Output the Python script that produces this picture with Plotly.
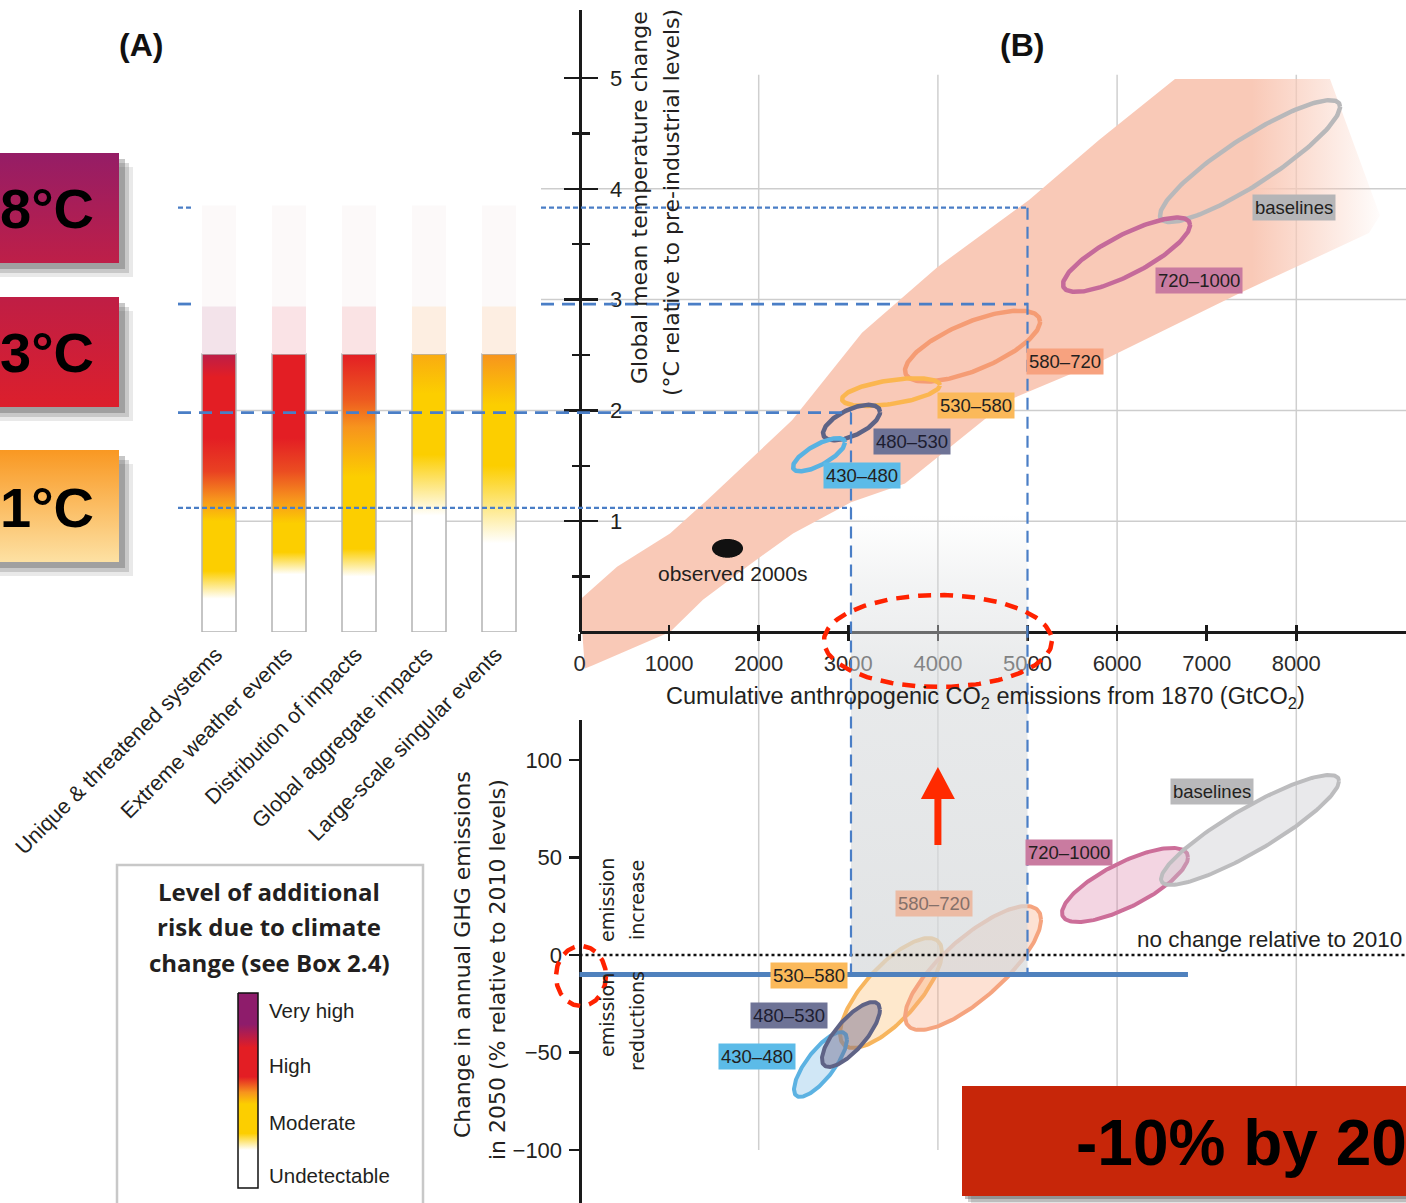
import numpy as np
import plotly.graph_objects as go

W, H = 1406, 1203

# ======================= DATA =======================
# Panel A - reasons for concern; risk level 0=undetectable 1=moderate 2=high 3=very high
rfc_names = ["Unique & threatened systems", "Extreme weather events", "Distribution of impacts",
             "Global aggregate impacts", "Large-scale singular events"]
rfc_T = [
    [0.00, 0.30, 0.55, 1.00, 1.20, 1.45, 1.75, 2.30, 2.51],
    [0.00, 0.52, 0.72, 0.98, 1.20, 1.45, 1.75, 2.51],
    [0.00, 0.50, 0.75, 1.40, 1.85, 2.10, 2.51],
    [0.00, 1.05, 1.60, 2.15, 2.51],
    [0.00, 0.80, 1.50, 2.05, 2.51],
]
rfc_level = [
    [0, 0, 1, 1, 1.5, 1.85, 2, 2, 2.5],
    [0, 0, 1, 1, 1.5, 1.8, 2, 2],
    [0, 0, 1, 1, 1.5, 1.75, 2],
    [0, 0, 1, 1, 1.3],
    [0, 0, 1, 1, 1.5],
]
rfc_band_T = [2.51, 2.94, 3.85]          # assessed top, pale band top, faint band top (°C)

legend_names = ["Very high", "High", "Moderate", "Undetectable"]
legend_name_pos = [0.908, 0.626, 0.338, 0.062]
legend_pos = [0.0, 0.195, 0.28, 0.43, 0.49, 0.57, 0.72, 0.84, 1.0]
legend_level = [0, 0, 1, 1, 1.5, 2, 2, 3, 3]

# Panel B - scenarios (CO2-eq concentration categories, ppm)
scenarios = ["baselines", "720–1000", "580–720", "530–580", "480–530", "430–480"]
# top: cumulative CO2 (GtCO2) vs warming (°C)
top_x_lo = [6479, 5396, 3633, 2930, 2718, 2383]
top_x_hi = [8488, 6814, 5140, 4023, 3354, 2963]
top_t_lo = [3.70, 3.07, 2.26, 2.04, 1.73, 1.45]
top_t_hi = [4.80, 3.74, 2.90, 2.29, 2.05, 1.75]
top_rho = [0.89, 0.80, 0.69, 0.50, 0.60, 0.73]
top_lab_x = [7974, 6914, 5419, 4425, 3711, 3153]
top_lab_t = [3.83, 3.17, 2.44, 2.04, 1.72, 1.41]

obs_x = [1479, 1825]
obs_t = [0.67, 0.84]
obs_lab = (1713, 0.53)

band_upper_x = [60, 5, 419, 1010, 1423, 2372, 3153, 3990, 5017, 5798, 6646, 8376]
band_upper_t = [-0.33, 0.29, 0.59, 0.89, 1.19, 1.91, 2.70, 3.29, 3.90, 4.44, 4.99, 4.99]
band_lower_x = [8934, 8811, 7372, 5809, 4782, 3633, 3030, 2383, 1869, 1378, 1010, 151]
band_lower_t = [3.76, 3.60, 3.06, 2.44, 2.09, 1.34, 1.17, 0.89, 0.59, 0.29, 0.00, -0.30]

# bottom: cumulative CO2 (GtCO2) vs change in 2050 GHG emissions (% rel. 2010)
bot_x_lo = [6490, 5385, 3633, 2907, 2706, 2394]
bot_x_hi = [8477, 6791, 5151, 4046, 3353, 2985]
bot_e_lo = [35.9, 16.9, -38.5, -47.7, -57.4, -72.8]
bot_e_hi = [92.3, 54.9, 25.1, 8.7, -24.1, -39.5]
bot_rho = [0.89, 0.75, 0.78, 0.74, 0.76, 0.77]
bot_lab_x = [7059, 5463, 3956, 2561, 2338, 1981]
bot_lab_e = [83.6, 52.8, 26.2, -10.3, -30.8, -52.3]

# guides
budget_x = [3030, 5000]            # GtCO2
budget_T_dash = [1.98, 2.96]       # °C
budget_T_dot = [1.12, 3.83]        # °C
target_change = -10                # %
target_line_end = 6791             # GtCO2

x_ticks = [0, 1000, 2000, 3000, 4000, 5000, 6000, 7000, 8000]
t_ticks = [1, 2, 3, 4, 5]
t_minor = [0.5, 1.5, 2.5, 3.5, 4.5]
e_ticks = [-100, -50, 0, 50, 100]
e_ticktext = ["−100", "−50", "0", "50", "100"]
grid_x = [2000, 4000, 6000, 8000]
grid_t = [1, 2, 3, 4]

# ======================= LAYOUT CONSTANTS =======================
X0, SX = 579.5, 0.0896      # px of X=0, px per GtCO2
T0, ST = 632.0, 110.8       # px of T=0, px per °C
E0, SE = 955.0, 1.95        # px of 0 %, px per %
A0, SA = 219.0, 70.0        # panel A first bar centre, spacing

SANS = "Liberation Sans, Arial, sans-serif"
HUMAN = "DejaVu Sans, Verdana, sans-serif"
INK = "#1a1a1a"
TXT = "#231f20"
BLUE = "#4a7ec6"


def fx(px):
    return px / W


def fy(py):
    return 1 - py / H


def xpx(X):
    return X0 + X * SX


def tpy(T):
    return T0 - T * ST


def epy(E):
    return E0 - E * SE


def ell(xlo, xhi, ylo, yhi, rho, n=181):
    t = np.linspace(0, 2 * np.pi, n)
    cx, cy = (xlo + xhi) / 2, (ylo + yhi) / 2
    hx, hy = (xhi - xlo) / 2, (yhi - ylo) / 2
    phi = np.arccos(rho)
    return cx + hx * np.cos(t), cy + hy * np.cos(t - phi)


def rect(x0, x1, y0, y1):
    return [x0, x1, x1, x0, x0], [y0, y0, y1, y1, y0]


LEVEL_STOPS = [0, 1, 1.5, 2, 2.5, 3]
LEVEL_RGB = [(255, 255, 255), (252, 206, 0), (247, 148, 29), (227, 30, 36), (188, 30, 72), (142, 28, 107)]


def level_color(v):
    c = [np.interp(v, LEVEL_STOPS, [p[k] for p in LEVEL_RGB]) for k in range(3)]
    return "rgb(%d,%d,%d)" % tuple(int(round(a)) for a in c)


SK = dict(hoverinfo="skip", showlegend=False)
fig = go.Figure()

# ---------- subplot xy : band, ellipses, observed ----------
bx = band_upper_x + band_lower_x + [band_upper_x[0]]
bt = band_upper_t + band_lower_t + [band_upper_t[0]]
fig.add_trace(go.Scatter(
    x=bx, y=bt, mode="none", fill="toself",
    fillgradient=dict(type="horizontal", start=min(bx), stop=max(bx),
                      colorscale=[[0, "rgb(249,201,183)"], [0.84, "rgb(249,201,183)"],
                                  [1, "rgba(249,201,183,0.05)"]]),
    xaxis="x", yaxis="y", **SK))

TOP_LINE = ["#b8b8ba", "#c56a9a", "#f59c74", "#fbb650", "#5d6386", "#58b2e2"]
for i in range(len(scenarios)):
    ex, ey = ell(top_x_lo[i], top_x_hi[i], top_t_lo[i], top_t_hi[i], top_rho[i])
    fig.add_trace(go.Scatter(x=ex, y=ey, mode="lines", line=dict(color=TOP_LINE[i], width=4.5),
                             xaxis="x", yaxis="y", **SK))
ox, oy = ell(obs_x[0], obs_x[1], obs_t[0], obs_t[1], 0.0)
fig.add_trace(go.Scatter(x=ox, y=oy, mode="none", fill="toself", fillcolor="#111111",
                         xaxis="x", yaxis="y", **SK))

# dummy traces for axis-only subplots
fig.add_trace(go.Scatter(x=[None], y=[None], xaxis="x", yaxis="y2", **SK))
fig.add_trace(go.Scatter(x=[None], y=[None], xaxis="x", yaxis="y3", **SK))
fig.add_trace(go.Scatter(x=[None], y=[None], xaxis="x2", yaxis="y2", **SK))

# ---------- subplot xy4 : bottom panel ----------
BOT_LINE = ["#bcbcbe", "#cc6e99", "#f5a47f", "#f7b55d", "#5f6386", "#5cb2e2"]
BOT_FILL = ["rgba(200,200,206,0.40)", "rgba(215,115,160,0.30)", "rgba(250,170,130,0.35)",
            "rgba(253,190,110,0.35)", "rgba(110,105,140,0.45)", "rgba(120,185,230,0.35)"]
for i in [1, 0, 3, 2, 5, 4]:
    ex, ey = ell(bot_x_lo[i], bot_x_hi[i], bot_e_lo[i], bot_e_hi[i], bot_rho[i])
    fig.add_trace(go.Scatter(x=ex, y=ey, mode="lines", fill="toself", fillcolor=BOT_FILL[i],
                             line=dict(color=BOT_LINE[i], width=4), xaxis="x", yaxis="y4", **SK))

# ---------- subplot x3y2 : panel A bars ----------
HW = 17.0 / SA
PALE = ["#f3e3ea", "#fae3e6", "#fae3e4", "#fdeee1", "#fdeee2"]
for i in range(len(rfc_names)):
    top = rfc_band_T[0]
    cs = [[T / top, level_color(l)] for T, l in zip(rfc_T[i], rfc_level[i])]
    rx_, ry_ = rect(i - HW, i + HW, 0, top)
    fig.add_trace(go.Scatter(x=rx_, y=ry_, mode="lines", fill="toself",
                             fillgradient=dict(type="vertical", colorscale=cs, start=0, stop=top),
                             line=dict(color="#b3b3b3", width=1.5), xaxis="x3", yaxis="y2", **SK))
    rx_, ry_ = rect(i - HW, i + HW, rfc_band_T[0], rfc_band_T[1])
    fig.add_trace(go.Scatter(x=rx_, y=ry_, mode="none", fill="toself", fillcolor=PALE[i],
                             xaxis="x3", yaxis="y2", **SK))
    rx_, ry_ = rect(i - HW, i + HW, rfc_band_T[1], rfc_band_T[2])
    fig.add_trace(go.Scatter(x=rx_, y=ry_, mode="none", fill="toself", fillcolor="#fcf9f9",
                             xaxis="x3", yaxis="y2", **SK))


# ---------- subplot x9y9 : pixel overlay ----------
def ov(x, y, **kw):
    fig.add_trace(go.Scatter(x=x, y=y, xaxis="x9", yaxis="y9", **SK, **kw))


# temperature boxes with shadows
deg_boxes = [("8°C", 153, 263, "#951d66", "#be1f48"),
             ("3°C", 297, 407, "#bf1e45", "#dc1f2c"),
             ("1°C", 450, 562, "#f99822", "#fde1a3")]
for _, y0, y1, ctop, cbot in deg_boxes:
    for off, a in [(14, 0.12), (10, 0.2), (6, 0.3)]:
        rx_, ry_ = rect(0, 119 + off, y0 + off, y1 + off)
        ov(rx_, ry_, mode="none", fill="toself", fillcolor="rgba(70,70,70,%.2f)" % a)
    rx_, ry_ = rect(0, 119, y0, y1)
    ov(rx_, ry_, mode="none", fill="toself",
       fillgradient=dict(type="vertical", start=y0, stop=y1, colorscale=[[0, ctop], [1, cbot]]))

# red box
for off, a in [(9, 0.15), (6, 0.25), (3, 0.35)]:
    rx_, ry_ = rect(962 + off, W, 1086 + off, 1196 + off)
    ov(rx_, ry_, mode="none", fill="toself", fillcolor="rgba(70,70,70,%.2f)" % a)
rx_, ry_ = rect(962, W, 1086, 1196)
ov(rx_, ry_, mode="none", fill="toself", fillcolor="#c72609")

# legend colour bar
CB_T, CB_B = 993, 1188
cs_leg = sorted([[1 - p, level_color(l)] for p, l in zip(legend_pos, legend_level)], key=lambda v: v[0])
rx_, ry_ = rect(238, 258, CB_T, CB_B)
ov(rx_, ry_, mode="lines", fill="toself", line=dict(color="#111111", width=1.5),
   fillgradient=dict(type="vertical", start=CB_T, stop=CB_B, colorscale=cs_leg))

# grey highlight of the budget range
g_top, g_bot = 515, epy(target_change)
rx_, ry_ = rect(xpx(budget_x[0]), xpx(budget_x[1]), g_top, g_bot)
ov(rx_, ry_, mode="none", fill="toself",
   fillgradient=dict(type="vertical", start=g_top, stop=g_bot,
                     colorscale=[[0, "rgba(214,217,219,0)"], [0.15, "rgba(214,217,219,0.30)"],
                                 [0.35, "rgba(214,217,219,0.55)"], [1, "rgba(214,217,219,0.72)"]]))

# zero-change dotted line
ov([xpx(0), W], [epy(0), epy(0)], mode="lines", line=dict(color="#111111", width=2.5, dash="3px,3px"))
# -10 % target line
ov([xpx(0), xpx(target_line_end)], [epy(target_change)] * 2, mode="lines",
   line=dict(color="#4f81bd", width=5))

# blue dashed guides
for bxv, td, tdot in zip(budget_x, budget_T_dash, budget_T_dot):
    xe = xpx(bxv)
    for T, dash, w in [(td, "13px,8px", 2.8), (tdot, "5px,3px", 2.2)]:
        segs = [(178, 192), (541, xe)] if T > rfc_band_T[0] else [(178, xe)]
        for a, b in segs:
            ov([a, b], [tpy(T), tpy(T)], mode="lines", line=dict(color=BLUE, width=w, dash=dash))
    ov([xe, xe], [tpy(max(td, tdot)), epy(target_change)], mode="lines",
       line=dict(color=BLUE, width=2.2, dash="12px,7px"))

# red dashed ellipses
for cx, cy, rxx, ryy in [(xpx(4000), 641, 114, 46), (581, 976, 25, 30)]:
    t = np.linspace(0, 2 * np.pi, 200)
    ov(cx + rxx * np.cos(t), cy + ryy * np.sin(t), mode="lines",
       line=dict(color="#ff2200", width=4.5, dash="13px,9px"))

# red arrow
ax_x = xpx(4000)
ov([ax_x, ax_x], [845, 796], mode="lines", line=dict(color="#ff2a00", width=7))
ov([ax_x - 17, ax_x + 17, ax_x, ax_x - 17], [799, 799, 767, 799], mode="none", fill="toself",
   fillcolor="#ff2a00")

# ======================= SHAPES =======================
shapes = []
for X in grid_x:
    shapes.append(dict(type="line", xref="paper", yref="paper", x0=fx(xpx(X)), x1=fx(xpx(X)),
                       y0=fy(tpy(5.03)), y1=fy(epy(-100)), line=dict(color="#cfcfcf", width=1.5),
                       layer="below"))
for T in grid_t:
    xs = A0 if T <= 2 else 541
    shapes.append(dict(type="line", xref="paper", yref="paper", x0=fx(xs), x1=1,
                       y0=fy(tpy(T)), y1=fy(tpy(T)), line=dict(color="#cdcdcd", width=1.5),
                       layer="below"))
shapes.append(dict(type="rect", xref="paper", yref="paper", x0=fx(117), x1=fx(423),
                   y0=fy(1215), y1=fy(865), line=dict(color="#c8c8c8", width=2.5), layer="below"))

# ======================= ANNOTATIONS =======================
ann = []


def A(**kw):
    d = dict(showarrow=False, xanchor="center", yanchor="middle", xref="paper", yref="paper")
    d.update(kw)
    ann.append(d)


A(text="<b>(A)</b>", x=fx(141), y=fy(45), font=dict(family=SANS, size=32, color="#111111"))
A(text="<b>(B)</b>", x=fx(1022), y=fy(45), font=dict(family=SANS, size=32, color="#111111"))

for txt, y0, y1, _, _ in deg_boxes:
    A(text="<b>%s</b>" % txt, x=fx(96), y=fy((y0 + y1) / 2 + 1), xanchor="right",
      font=dict(family=SANS, size=56, color="#000000"))

A(text="<b>-10% by 20</b>", x=fx(1074), y=fy(1143), xanchor="left",
  font=dict(family=SANS, size=64, color="#000000"))

for i, name in enumerate(rfc_names):
    A(text=name, x=i, xref="x3", xshift=11, y=fy(640), textangle=-45,
      xanchor="right", yanchor="top", font=dict(family=SANS, size=21.5, color=TXT))

for k, line in enumerate(["Level of additional", "risk due to climate", "change (see Box 2.4)"]):
    A(text="<b>%s</b>" % line, x=fx(269), y=fy(891 + 35.5 * k),
      font=dict(family="Open Sans, Liberation Sans, sans-serif", size=24, color=TXT))
for name, p in zip(legend_names, legend_name_pos):
    A(text=name, x=fx(267), y=fy(CB_B - p * (CB_B - CB_T)), xanchor="left",
      font=dict(family=SANS, size=20.5, color=TXT))

A(text="Global mean temperature change", x=fx(640), y=fy(198), textangle=-90,
  font=dict(family=HUMAN, size=22, color=TXT))
A(text="(°C relative to pre-industrial levels)", x=fx(672), y=fy(203), textangle=-90,
  font=dict(family=HUMAN, size=22, color=TXT))
A(text="Change in annual GHG emissions", x=fx(462), y=fy(955), textangle=-90,
  font=dict(family=HUMAN, size=22, color=TXT))
A(text="in 2050 (% relative to 2010 levels)", x=fx(497), y=fy(970), textangle=-90,
  font=dict(family=HUMAN, size=22, color=TXT))
for txt, xx, yy in [("emission", 607, 900), ("increase", 637, 900),
                    ("emission", 607, 1015), ("reductions", 637, 1021)]:
    A(text=txt, x=fx(xx), y=fy(yy), textangle=-90, font=dict(family=HUMAN, size=19, color=TXT))

A(text="Cumulative anthropogenic CO<sub>2</sub> emissions from 1870 (GtCO<sub>2</sub>)",
  x=fx(985), y=fy(697), font=dict(family=SANS, size=23.5, color=TXT))
A(text="observed 2000s", x=obs_lab[0], y=obs_lab[1], xref="x", yref="y2",
  font=dict(family=SANS, size=21, color=TXT))
A(text="no change relative to 2010", x=fx(1404), y=fy(939), xanchor="right",
  font=dict(family=SANS, size=22.5, color=TXT))

LAB_BG_TOP = ["#b5b5b7", "#c97ba0", "#f7a27f", "#fbb95a", "#6e7396", "#5cbbe8"]
LAB_BG_BOT = ["#b9b9bb", "#c97ba0", "#ecbba4", "#fbb95a", "#6e7396", "#5cbbe8"]
LAB_FG_BOT = [TXT, TXT, "#84706a", TXT, "#1d1d30", TXT]
for i, s in enumerate(scenarios):
    A(text=s, x=top_lab_x[i], y=top_lab_t[i], xref="x", yref="y2", bgcolor=LAB_BG_TOP[i],
      borderpad=2, font=dict(family=SANS, size=18.5, color="#1d1d30" if i == 4 else TXT))
    A(text=s, x=bot_lab_x[i], y=bot_lab_e[i], xref="x", yref="y4", bgcolor=LAB_BG_BOT[i],
      borderpad=2, font=dict(family=SANS, size=18.5, color=LAB_FG_BOT[i]))

# ======================= AXES =======================
tick_common = dict(showgrid=False, zeroline=False, fixedrange=True, automargin=False)
xr = [0, (W - X0) / SX]
yr2 = [0, (T0 - 10) / ST]
fig.update_layout(
    width=W, height=H, margin=dict(l=0, r=0, t=0, b=0),
    paper_bgcolor="white", plot_bgcolor="rgba(0,0,0,0)", showlegend=False,
    xaxis=dict(domain=[fx(X0), 1], range=xr, anchor="free", position=fy(T0),
               showline=True, linecolor=INK, linewidth=3,
               ticks="outside", ticklen=7, tickwidth=2.5, tickcolor=INK,
               tickmode="array", tickvals=x_ticks, ticktext=[str(v) for v in x_ticks],
               tickfont=dict(family=SANS, size=22, color="#2a2a2a"), ticklabelstandoff=4,
               **tick_common),
    xaxis2=dict(overlaying="x", anchor="free", position=fy(T0), side="bottom", range=xr,
                tickmode="array", tickvals=x_ticks, ticks="inside", ticklen=7, tickwidth=2.5,
                tickcolor=INK, showticklabels=False, showline=False, **tick_common),
    xaxis3=dict(domain=[fx(178), fx(540)], range=[(178 - A0) / SA, (540 - A0) / SA],
                visible=False, anchor="y2", **tick_common),
    xaxis9=dict(domain=[0, 1], range=[0, W], visible=False, anchor="y9", **tick_common),
    yaxis=dict(domain=[fy(700), fy(10)], range=[(T0 - 700) / ST, (T0 - 10) / ST],
               visible=False, anchor="x", **tick_common),
    yaxis2=dict(domain=[fy(T0), fy(10)], range=yr2, anchor="free", position=fx(X0), side="right",
                showline=True, linecolor=INK, linewidth=3,
                ticks="outside", ticklen=16, tickwidth=2.5, tickcolor=INK,
                tickmode="array", tickvals=t_ticks,
                minor=dict(tickmode="array", tickvals=t_minor, ticks="outside", ticklen=8,
                           tickwidth=2.5, tickcolor=INK),
                tickfont=dict(family=SANS, size=22, color=TXT), ticklabelstandoff=8,
                **tick_common),
    yaxis3=dict(overlaying="y2", anchor="free", position=fx(X0), side="left", range=yr2,
                ticks="outside", ticklen=16, tickwidth=2.5, tickcolor=INK,
                tickmode="array", tickvals=t_ticks,
                minor=dict(tickmode="array", tickvals=t_minor, ticks="outside", ticklen=8,
                           tickwidth=2.5, tickcolor=INK),
                showticklabels=False, showline=False, **tick_common),
    yaxis4=dict(domain=[0, fy(720)], range=[(E0 - H) / SE, (E0 - 720) / SE], anchor="free",
                position=fx(X0), side="left", showline=True, linecolor=INK, linewidth=3,
                ticks="outside", ticklen=10, tickwidth=2.5, tickcolor=INK,
                tickmode="array", tickvals=e_ticks, ticktext=e_ticktext,
                tickfont=dict(family=SANS, size=22, color=TXT), ticklabelstandoff=2,
                **tick_common),
    yaxis9=dict(domain=[0, 1], range=[H, 0], visible=False, anchor="x9", **tick_common),
    shapes=shapes,
    annotations=ann,
)

fig.write_html(
    "out.html",
    config={"displayModeBar": False, "staticPlot": True},
    post_script="document.body.style.margin='0';document.body.style.overflow='hidden';"
                "document.documentElement.style.overflow='hidden';",
)
